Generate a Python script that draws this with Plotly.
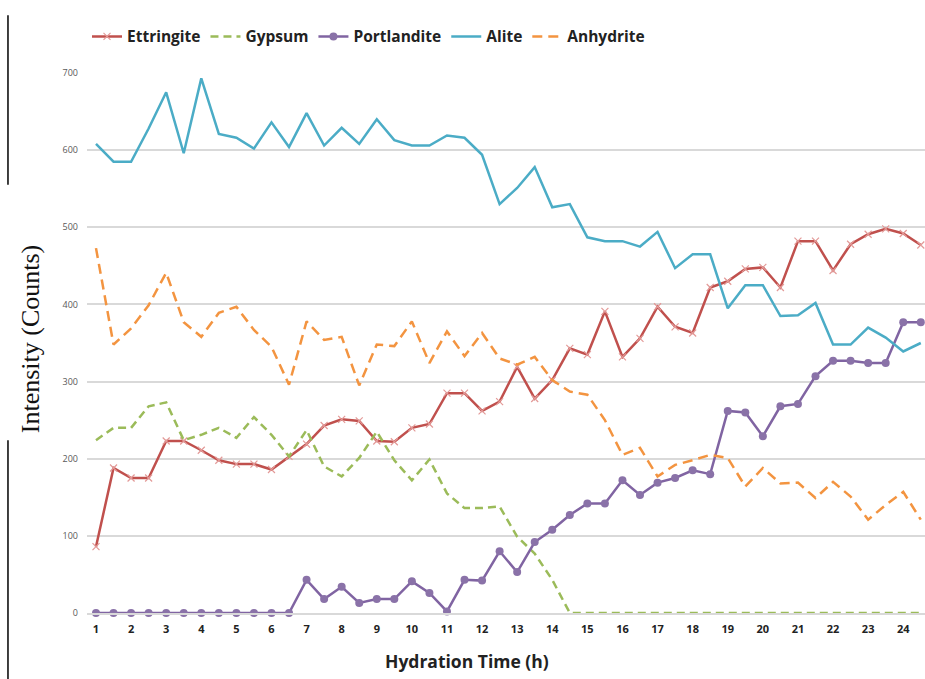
import plotly.graph_objects as go

# Hydration time (h), sampled every half hour
hours = [1, 1.5, 2, 2.5, 3, 3.5, 4, 4.5, 5, 5.5, 6, 6.5, 7, 7.5, 8, 8.5,
         9, 9.5, 10, 10.5, 11, 11.5, 12, 12.5, 13, 13.5, 14, 14.5, 15, 15.5, 16, 16.5,
         17, 17.5, 18, 18.5, 19, 19.5, 20, 20.5, 21, 21.5, 22, 22.5, 23, 23.5, 24, 24.5]

ettringite = [86, 188, 175, 175, 223, 223, 211, 198, 193, 193, 186, 203, 219, 243, 251, 249,
              223, 222, 240, 245, 285, 285, 262, 274, 319, 278, 302, 343, 335, 391, 332, 356,
              397, 371, 363, 422, 430, 446, 448, 422, 482, 482, 444, 478, 491, 498, 492, 477]

gypsum = [224, 240, 240, 268, 273, 224, 231, 240, 227, 254, 231, 203, 237, 190, 177, 201,
          235, 198, 172, 199, 155, 136, 136, 138, 99, 77, 43, 0, 0, 0, 0, 0,
          0, 0, 0, 0, 0, 0, 0, 0, 0, 0, 0, 0, 0, 0, 0, 0]

portlandite = [0, 0, 0, 0, 0, 0, 0, 0, 0, 0, 0, 0, 43, 18, 34, 13,
               18, 18, 41, 26, 2, 43, 42, 80, 53, 92, 108, 127, 142, 142, 172, 153,
               169, 175, 185, 180, 262, 260, 229, 268, 271, 307, 327, 327, 324, 324, 377, 377]

alite = [608, 585, 585, 628, 675, 596, 693, 621, 616, 602, 636, 604, 648, 606, 629, 608,
         640, 613, 606, 606, 619, 616, 594, 530, 551, 578, 526, 530, 487, 482, 482, 475,
         494, 447, 465, 465, 395, 425, 425, 385, 386, 402, 348, 348, 370, 357, 339, 350]

anhydrite = [473, 348, 369, 399, 441, 377, 358, 389, 397, 367, 345, 296, 378, 354, 358, 295,
             348, 346, 378, 324, 365, 333, 363, 330, 322, 332, 302, 287, 283, 250, 205, 214,
             177, 192, 198, 205, 201, 164, 188, 168, 169, 149, 170, 151, 121, 140, 157, 121]

tick_hours = [1, 2, 3, 4, 5, 6, 7, 8, 9, 10, 11, 12, 13, 14, 15, 16, 17, 18, 19, 20, 21, 22, 23, 24]
y_ticks = [0, 100, 200, 300, 400, 500, 600, 700]

fig = go.Figure()

fig.add_trace(go.Scatter(
    x=hours, y=ettringite, name="Ettringite", mode="lines+markers",
    line=dict(color="#C0504D", width=2.5),
    marker=dict(symbol="x-thin", size=7, line=dict(color="#E39A98", width=1.2)),
    cliponaxis=False))
fig.add_trace(go.Scatter(
    x=hours, y=gypsum, name="Gypsum", mode="lines",
    line=dict(color="#9BBB59", width=2.5, dash="8px,5px"),
    cliponaxis=False))
fig.add_trace(go.Scatter(
    x=hours, y=portlandite, name="Portlandite", mode="lines+markers",
    line=dict(color="#8064A2", width=2.5),
    marker=dict(symbol="circle", size=8, color="#8A72A8"),
    cliponaxis=False))
fig.add_trace(go.Scatter(
    x=hours, y=alite, name="Alite", mode="lines",
    line=dict(color="#4BACC6", width=2.5),
    cliponaxis=False))
fig.add_trace(go.Scatter(
    x=hours, y=anhydrite, name="Anhydrite", mode="lines",
    line=dict(color="#F39440", width=2.5, dash="10px,6px"),
    cliponaxis=False))

# thin border line on the far left
for y0, y1 in [(1.107, 0.793), (0.320, -0.122)]:
    fig.add_shape(type="line", xref="paper", yref="paper",
                  x0=-0.0943, x1=-0.0943, y0=y0, y1=y1,
                  line=dict(color="black", width=1.5))

fig.add_annotation(text="Hydration Time (h)", xref="paper", yref="paper",
                   x=0.453, y=-0.089, showarrow=False, yanchor="middle",
                   font=dict(family="Open Sans", size=17.5, color="#222222", weight="bold"))
fig.add_annotation(text="Intensity (Counts)", xref="paper", yref="paper",
                   x=-0.068, y=0.507, showarrow=False, textangle=-90,
                   xanchor="center", yanchor="middle",
                   font=dict(family="Liberation Serif", size=26, color="#111111"))

fig.update_layout(
    width=925, height=679,
    margin=dict(l=87, r=0, t=73, b=66),
    paper_bgcolor="white", plot_bgcolor="white",
    showlegend=True,
    legend=dict(orientation="h", x=0.0, y=1.067, xanchor="left", yanchor="middle",
                font=dict(family="Open Sans", size=15.5, color="#222222", weight="bold"),
                itemwidth=30, tracegroupgap=0, bgcolor="rgba(0,0,0,0)"),
    xaxis=dict(range=[0.744, 24.62], tickmode="array", tickvals=tick_hours,
               ticktext=[str(v) for v in tick_hours], showgrid=False, zeroline=False,
               showline=True, linecolor="#D9D9D9", linewidth=1.5, ticks="",
               ticklabelstandoff=5,
               tickfont=dict(family="Open Sans", size=11, color="#222222", weight="bold")),
    yaxis=dict(range=[0, 700], tickmode="array", tickvals=y_ticks,
               showgrid=True, gridcolor="#D9D9D9", gridwidth=1.5, zeroline=False,
               showline=False, ticks="", ticklabelstandoff=8,
               tickfont=dict(family="Open Sans", size=9, color="#595959")),
)

fig.write_html("out.html")
